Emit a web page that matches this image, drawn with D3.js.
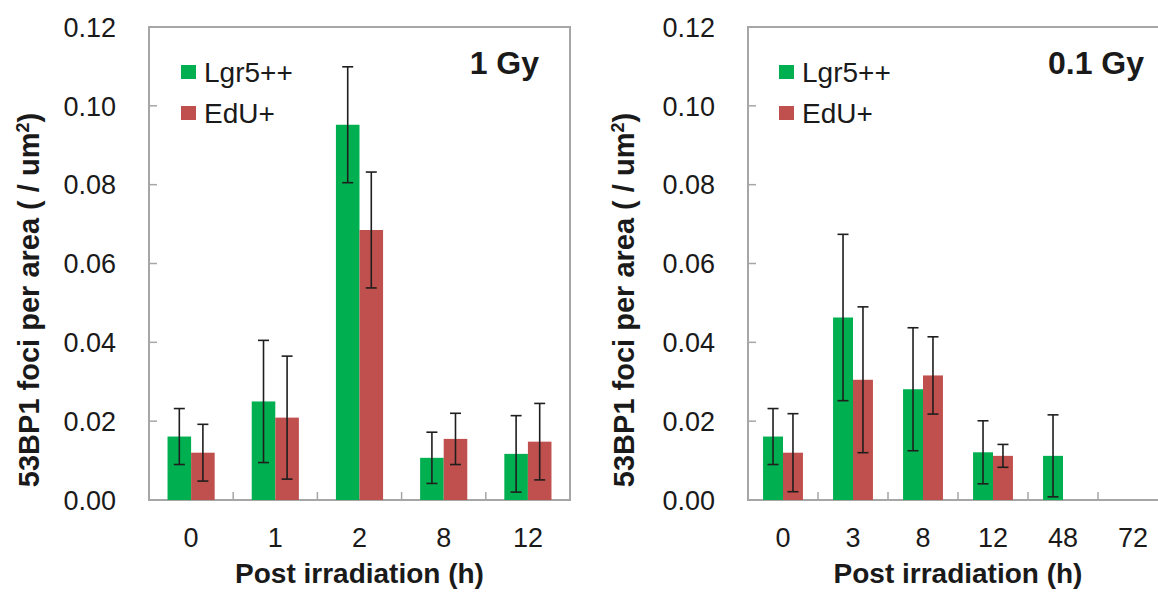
<!DOCTYPE html>
<html>
<head>
<meta charset="utf-8">
<script src="https://cdn.jsdelivr.net/npm/d3@7"></script>
<style>
  body { margin: 0; background: #fff; }
  svg { display: block; font-family: "Liberation Sans", Arial, sans-serif; }
</style>
</head>
<body>
<svg id="chart" width="1158" height="594"></svg>
<script>
// 53BP1 foci, two panels

// data
const series = ['Lgr5++', 'EdU+'];
const yTicks = [0, 0.02, 0.04, 0.06, 0.08, 0.10, 0.12];

const hours1Gy = ['0', '1', '2', '8', '12'];
const lgr1Gy = [0.0161, 0.0250, 0.0952, 0.0107, 0.0117];
const lgrErr1Gy = [0.0071, 0.0155, 0.0147, 0.0065, 0.0097];
const edu1Gy = [0.0120, 0.0209, 0.0685, 0.0155, 0.0148];
const eduErr1Gy = [0.0072, 0.0156, 0.0147, 0.0065, 0.0097];

const hours01Gy = ['0', '3', '8', '12', '48', '72'];
const lgr01Gy = [0.0161, 0.0463, 0.0281, 0.0121, 0.0112, null];
const lgrErr01Gy = [0.0071, 0.0211, 0.0156, 0.0080, 0.0104, null];
const edu01Gy = [0.0120, 0.0305, 0.0316, 0.0112, null, null];
const eduErr01Gy = [0.0099, 0.0185, 0.0098, 0.0029, null, null];

const colours = { 'Lgr5++': '#00b050', 'EdU+': '#c0504d' };

// layout for each panel
const plotTop = 27, plotBottom = 500;
const panels = [
  { title: '1 Gy', cats: hours1Gy, vals: [lgr1Gy, edu1Gy], errs: [lgrErr1Gy, eduErr1Gy],
    x0: 149, x1: 570, pad: 0.44, tickLabelX: 116, yTitleX: 39, titleX: 539, legendX: 181 },
  { title: '0.1 Gy', cats: hours01Gy, vals: [lgr01Gy, edu01Gy], errs: [lgrErr01Gy, eduErr01Gy],
    x0: 748, x1: 1168, pad: 0.43, tickLabelX: 715, yTitleX: 634, titleX: 1144, legendX: 779 }
];

const svg = d3.select('#chart');

const y = d3.scaleLinear()
  .domain([0, 0.12])
  .range([plotBottom, plotTop]);

panels.forEach(function (p) {
  const g = svg.append('g');

  const x = d3.scaleBand()
    .domain(p.cats)
    .range([p.x0, p.x1])
    .paddingInner(p.pad)
    .paddingOuter(p.pad / 2);

  const xs = d3.scaleBand()
    .domain(series)
    .range([0, x.bandwidth()]);

  // frame
  g.append('rect')
    .attr('x', p.x0).attr('y', plotTop)
    .attr('width', p.x1 - p.x0).attr('height', plotBottom - plotTop)
    .attr('fill', 'none')
    .attr('stroke', '#a6a6a6')
    .attr('stroke-width', 2);

  // y ticks, inward
  g.selectAll('.ytick')
    .data(yTicks.slice(1, -1))
    .enter()
    .append('line')
    .attr('x1', p.x0).attr('x2', p.x0 + 8)
    .attr('y1', function (d) { return y(d); })
    .attr('y2', function (d) { return y(d); })
    .attr('stroke', '#a6a6a6')
    .attr('stroke-width', 1.5);

  g.selectAll('.ylabel')
    .data(yTicks)
    .enter()
    .append('text')
    .attr('x', p.tickLabelX)
    .attr('y', function (d) { return y(d); })
    .attr('dy', '0.36em')
    .attr('text-anchor', 'end')
    .attr('font-size', 27)
    .attr('fill', '#1a1a1a')
    .text(function (d) { return d3.format('.2f')(d); });

  // x ticks between groups
  g.selectAll('.xtick')
    .data(p.cats.slice(1))
    .enter()
    .append('line')
    .attr('x1', function (d) { return x(d) - x.step() * x.paddingInner() / 2; })
    .attr('x2', function (d) { return x(d) - x.step() * x.paddingInner() / 2; })
    .attr('y1', plotBottom).attr('y2', plotBottom - 8)
    .attr('stroke', '#a6a6a6')
    .attr('stroke-width', 1.5);

  g.selectAll('.xlabel')
    .data(p.cats)
    .enter()
    .append('text')
    .attr('x', function (d) { return x(d) + x.bandwidth() / 2; })
    .attr('y', 547)
    .attr('text-anchor', 'middle')
    .attr('font-size', 27)
    .attr('fill', '#1a1a1a')
    .text(function (d) { return d; });

  // bars and error bars
  series.forEach(function (s, si) {
    const rows = p.cats.map(function (c, i) {
      return { cat: c, v: p.vals[si][i], e: p.errs[si][i] };
    }).filter(function (d) { return d.v != null; });

    g.selectAll('.bar' + si)
      .data(rows)
      .enter()
      .append('rect')
      .attr('x', function (d) { return x(d.cat) + xs(s); })
      .attr('y', function (d) { return y(d.v); })
      .attr('width', xs.bandwidth())
      .attr('height', function (d) { return y(0) - y(d.v); })
      .attr('fill', colours[s]);

    const eb = g.selectAll('.err' + si)
      .data(rows)
      .enter()
      .append('g')
      .attr('stroke', '#1e1e1e')
      .attr('stroke-width', 1.6);

    eb.append('line')
      .attr('x1', function (d) { return x(d.cat) + xs(s) + xs.bandwidth() / 2; })
      .attr('x2', function (d) { return x(d.cat) + xs(s) + xs.bandwidth() / 2; })
      .attr('y1', function (d) { return y(d.v + d.e); })
      .attr('y2', function (d) { return y(Math.max(0, d.v - d.e)); });

    [1, -1].forEach(function (sign) {
      eb.append('line')
        .attr('x1', function (d) { return x(d.cat) + xs(s) + xs.bandwidth() / 2 - 5.5; })
        .attr('x2', function (d) { return x(d.cat) + xs(s) + xs.bandwidth() / 2 + 5.5; })
        .attr('y1', function (d) { return y(d.v + sign * d.e); })
        .attr('y2', function (d) { return y(d.v + sign * d.e); });
    });
  });

  // legend
  const leg = g.selectAll('.legend')
    .data(series)
    .enter()
    .append('g')
    .attr('transform', function (d, i) {
      return 'translate(' + p.legendX + ',' + (65 + i * 41) + ')';
    });

  leg.append('rect')
    .attr('width', 15).attr('height', 14)
    .attr('fill', function (d) { return colours[d]; });

  leg.append('text')
    .attr('x', 23).attr('y', 17)
    .attr('font-size', 28)
    .attr('fill', '#1a1a1a')
    .text(function (d) { return d; });

  // dose label
  g.append('text')
    .attr('x', p.titleX).attr('y', 74)
    .attr('text-anchor', 'end')
    .attr('font-size', 32)
    .attr('font-weight', 'bold')
    .attr('fill', '#1a1a1a')
    .text(p.title);

  // axis titles
  g.append('text')
    .attr('x', (p.x0 + p.x1) / 2).attr('y', 583)
    .attr('text-anchor', 'middle')
    .attr('font-size', 28)
    .attr('font-weight', 'bold')
    .attr('fill', '#1a1a1a')
    .text('Post irradiation (h)');

  const yt = g.append('text')
    .attr('transform', 'translate(' + p.yTitleX + ',300) rotate(-90)')
    .attr('text-anchor', 'middle')
    .attr('font-size', 29)
    .attr('font-weight', 'bold')
    .attr('fill', '#1a1a1a');
  yt.append('tspan').text('53BP1 foci per area ( / um');
  yt.append('tspan').attr('dy', -10).attr('font-size', 18).text('2');
  yt.append('tspan').attr('dy', 10).text(')');
});
</script>
</body>
</html>
